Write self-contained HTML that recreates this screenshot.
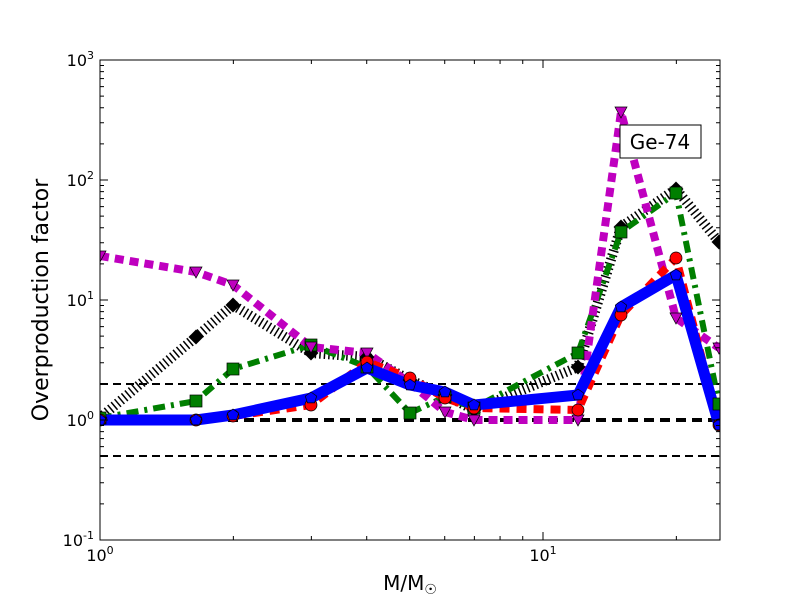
<!DOCTYPE html>
<html><head><meta charset="utf-8"><style>body{margin:0;background:#fff}svg{display:block}text{font-family:"DejaVu Sans","Liberation Sans",sans-serif}</style></head>
<body>
<svg id="s" width="800" height="600" xmlns="http://www.w3.org/2000/svg">
<defs><clipPath id="c"><rect x="100" y="60" width="620" height="480"/></clipPath></defs>
<rect width="800" height="600" fill="#fff"/>
<g id="plot" clip-path="url(#c)">
<line x1="100" x2="720" y1="384" y2="384" stroke="#000" stroke-width="2" stroke-dasharray="8,5"/>
<line x1="100" x2="720" y1="420" y2="420" stroke="#000" stroke-width="4" stroke-dasharray="10,6"/>
<line x1="100" x2="720" y1="456" y2="456" stroke="#000" stroke-width="2" stroke-dasharray="8,5"/>
</g>
<g id="ticks"></g>
<rect x="100" y="60" width="620" height="480" fill="none" stroke="#000" stroke-width="1"/>
<g font-size="16">
<text x="100" y="561" text-anchor="middle">10<tspan dy="-7" font-size="11">0</tspan></text>
<text x="543" y="561" text-anchor="middle">10<tspan dy="-7" font-size="11">1</tspan></text>
<text x="94" y="66" text-anchor="end">10<tspan dy="-7" font-size="11">3</tspan></text>
<text x="94" y="186" text-anchor="end">10<tspan dy="-7" font-size="11">2</tspan></text>
<text x="94" y="306" text-anchor="end">10<tspan dy="-7" font-size="11">1</tspan></text>
<text x="94" y="426" text-anchor="end">10<tspan dy="-7" font-size="11">0</tspan></text>
<text x="94" y="546" text-anchor="end">10<tspan dy="-7" font-size="11">-1</tspan></text>
</g>
<text x="410" y="590" font-size="20" text-anchor="middle">M/M<tspan font-size="14" dy="4">☉</tspan></text>
<text x="48" y="300" font-size="22" text-anchor="middle" transform="rotate(-90 48 300)">Overproduction factor</text>
<rect x="620" y="125" width="81" height="33" fill="#fff" stroke="#000"/>
<text x="660" y="149" font-size="20" text-anchor="middle">Ge-74</text>
</svg>
<script>
var NS="http://www.w3.org/2000/svg";
function el(p,t,a){var e=document.createElementNS(NS,t);for(var k in a)e.setAttribute(k,a[k]);p.appendChild(e);return e;}
var X=[100,196,233,311,367,410,445,474,578,621,676,719];
var plot=document.getElementById('plot');
var S=[
 {c:'#000',w:10,d:'1.5,3',y:[418,337,305,353,357,380,395,410,367,227,189,242],m:'d'},
 {c:'#007f00',w:6,d:'12,6,3,6',y:[418,401,369,345,367,413,397,408,353,232,193,404],m:'s'},
 {c:'#bf00bf',w:8,d:'9,6',y:[256,272,285,347,353,383,412,420,420,112,318,348],m:'v'},
 {c:'#f00',w:8,d:'10,7',y:[420,420,416,405,362,378,398,408,410,315,258,425],m:'o'},
 {c:'#00f',w:11,d:'',y:[420,420,415,398,368,385,392,405,395,307,275,425],m:'p'}
];
S.forEach(function(s){
 var pts=X.map(function(x,i){return x+','+s.y[i]}).join(' ');
 var a={points:pts,fill:'none',stroke:s.c,'stroke-width':s.w,'stroke-linejoin':'round'};
 if(s.d)a['stroke-dasharray']=s.d;
 el(plot,'polyline',a);
});
S.forEach(function(s){
 X.forEach(function(x,i){var y=s.y[i];var a={fill:s.c,stroke:'#000','stroke-width':0.7};
  if(s.m=='d'){a.points=[x,y-7,x+7,y,x,y+7,x-7,y].join(',');el(plot,'polygon',a);}
  else if(s.m=='s'){a.x=x-6;a.y=y-6;a.width=12;a.height=12;el(plot,'rect',a);}
  else if(s.m=='v'){a.points=[x-6,y-5,x+6,y-5,x,y+6].join(',');el(plot,'polygon',a);}
  else if(s.m=='o'){a.cx=x;a.cy=y;a.r=6;el(plot,'circle',a);}
  else {var p=[];for(var k=0;k<5;k++){var t=-Math.PI/2+k*2*Math.PI/5;p.push(x+6*Math.cos(t),y+6*Math.sin(t));}a.points=p.join(',');el(plot,'polygon',a);}
 });
});
var T=document.getElementById('ticks');
function tk(x1,y1,x2,y2){el(T,'line',{x1:x1,y1:y1,x2:x2,y2:y2,stroke:'#000','stroke-width':1});}
for(var dec=0;dec<2;dec++)for(var k=1;k<10;k++){var x=100+443*(dec+Math.log10(k));if(x>720)break;var L=k==1?8:4;tk(x,540,x,540-L);tk(x,60,x,60+L);}
for(var dec=0;dec<4;dec++)for(var k=1;k<10;k++){var y=540-120*(dec+Math.log10(k));var L=k==1?8:4;tk(100,y,100+L,y);tk(720,y,720-L,y);}
tk(100,60,108,60);tk(720,60,712,60);
</script>
</body></html>
